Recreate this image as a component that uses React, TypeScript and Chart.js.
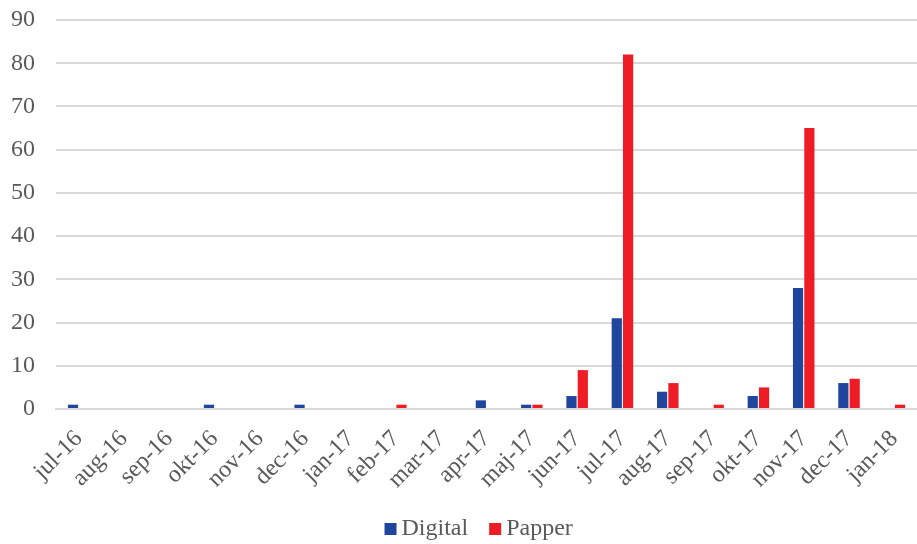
import React, { useEffect, useRef } from "react";
import { Chart, registerables } from "chart.js";

Chart.register(...registerables);

const categories = [
  "jul-16", "aug-16", "sep-16", "okt-16", "nov-16", "dec-16", "jan-17", "feb-17", "mar-17",
  "apr-17", "maj-17", "jun-17", "jul-17", "aug-17", "sep-17", "okt-17", "nov-17", "dec-17", "jan-18",
];
const digital = [1, 0, 0, 1, 0, 1, 0, 0, 0, 2, 1, 3, 21, 4, 0, 3, 28, 6, 0];
const papper = [0, 0, 0, 0, 0, 0, 0, 1, 0, 0, 1, 9, 82, 6, 1, 5, 65, 7, 1];

const FONT_FAMILY = "'Liberation Serif', 'Times New Roman', serif";
const TEXT_COLOR = "#595959";

// Custom legend: small square, tight gap, like the original
const bottomLegend = {
  id: "bottomLegend",
  afterDraw(chart: any) {
    const ctx = chart.ctx;
    const items = chart.data.datasets.map((d: any) => ({ text: d.label, color: d.backgroundColor }));
    ctx.save();
    ctx.font = `24px ${FONT_FAMILY}`;
    const box = 12, gap = 5, between = 21;
    const widths = items.map((it: any) => box + gap + ctx.measureText(it.text).width);
    const total = widths.reduce((a: number, b: number) => a + b, 0) + between * (items.length - 1);
    let x = chart.width * 0.522 - total / 2;
    const cy = 529;
    ctx.textBaseline = "middle";
    ctx.textAlign = "left";
    items.forEach((it: any, i: number) => {
      ctx.fillStyle = it.color;
      ctx.fillRect(x, cy - box / 2, box, box);
      ctx.fillStyle = TEXT_COLOR;
      ctx.fillText(it.text, x + box + gap, cy);
      x += widths[i] + between;
    });
    ctx.restore();
  },
};

export default function App() {
  const ref = useRef<HTMLCanvasElement>(null);
  useEffect(() => {
    document.body.style.margin = "0";
    const font = { family: FONT_FAMILY, size: 24 };
    const chart = new Chart(ref.current!, {
      type: "bar",
      data: {
        labels: categories,
        datasets: [
          { label: "Digital", data: digital, backgroundColor: "#1f459c", categoryPercentage: 0.5, barPercentage: 0.9 },
          { label: "Papper", data: papper, backgroundColor: "#ee1c25", categoryPercentage: 0.5, barPercentage: 0.9 },
        ],
      },
      plugins: [bottomLegend],
      options: {
        animation: false,
        responsive: false,
        maintainAspectRatio: false,
        layout: { padding: { left: 11, right: 0, top: 20, bottom: 46 } },
        plugins: {
          legend: { display: false },
          tooltip: { enabled: false },
        },
        scales: {
          x: {
            grid: { display: false },
            border: { display: true, color: "#d9d9d9", width: 2 },
            ticks: { font, color: TEXT_COLOR, maxRotation: 45, minRotation: 45, autoSkip: false, padding: 8 },
            afterFit: (s: any) => {
              s.paddingLeft = 0;
              s.paddingRight = 0;
              s.height = 89;
            },
          },
          y: {
            min: 0,
            max: 90,
            grid: { color: "#d9d9d9", lineWidth: 2, drawTicks: false },
            border: { display: false },
            ticks: { stepSize: 10, font, color: TEXT_COLOR, padding: 21 },
            afterFit: (s: any) => {
              s.paddingTop = 0;
              s.paddingBottom = 0;
              s.width = 45;
            },
          },
        },
      },
    });
    return () => chart.destroy();
  }, []);
  return (
    <div style={{ width: 917, height: 544 }}>
      <canvas ref={ref} width={917} height={544} />
    </div>
  );
}
